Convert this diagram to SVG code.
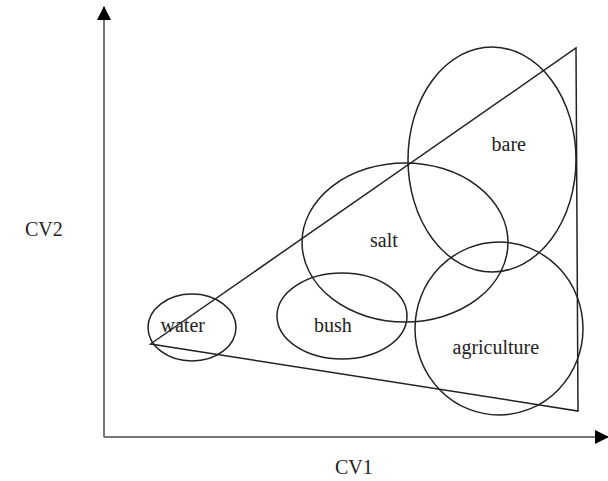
<svg xmlns="http://www.w3.org/2000/svg" width="608" height="481" viewBox="0 0 608 481">
  <defs>
    <marker id="arrow" viewBox="0 0 14 14" refX="13" refY="7" markerWidth="14" markerHeight="14" markerUnits="userSpaceOnUse" orient="auto">
      <path d="M0,0 L14,7 L0,14 Z" fill="#000"/>
    </marker>
    <style>
      .axis { stroke: #777; stroke-width: 2; fill: none; }
      .edge { stroke: #222; stroke-width: 1.5; fill: none; }
      .region { stroke: #222; stroke-width: 1.5; fill: none; }
      .label { font-family: "Liberation Serif", "Times New Roman", serif; font-size: 20px; fill: #222; }
    </style>
  </defs>
  <rect width="608" height="481" fill="#fff"/>

  <!-- axes -->
  <g id="axes">
    <line class="axis" x1="104" y1="437" x2="104" y2="7" marker-end="url(#arrow)"/>
    <line class="axis" x1="104" y1="437" x2="608" y2="437" marker-end="url(#arrow)"/>
    <text class="label" x="335" y="474">CV1</text>
    <text class="label" x="25" y="236">CV2</text>
  </g>

  <!-- mixing triangle -->
  <g id="connectors">
    <polygon class="edge" points="150.5,344 576,48 578,411"/>
  </g>

  <!-- class regions -->
  <g id="water">
    <ellipse class="region" cx="192" cy="327.5" rx="44" ry="33.5"/>
    <text class="label" x="160.5" y="332">water</text>
  </g>
  <g id="bush">
    <ellipse class="region" cx="342" cy="316" rx="65" ry="43"/>
    <text class="label" x="314" y="332">bush</text>
  </g>
  <g id="salt">
    <ellipse class="region" cx="405" cy="242.5" rx="103" ry="79.5"/>
    <text class="label" x="370" y="247">salt</text>
  </g>
  <g id="bare">
    <ellipse class="region" cx="492" cy="159.5" rx="84" ry="112.5"/>
    <text class="label" x="491.5" y="151">bare</text>
  </g>
  <g id="agriculture">
    <ellipse class="region" cx="499" cy="328.5" rx="84" ry="86.5"/>
    <text class="label" x="452.5" y="354">agriculture</text>
  </g>
</svg>
